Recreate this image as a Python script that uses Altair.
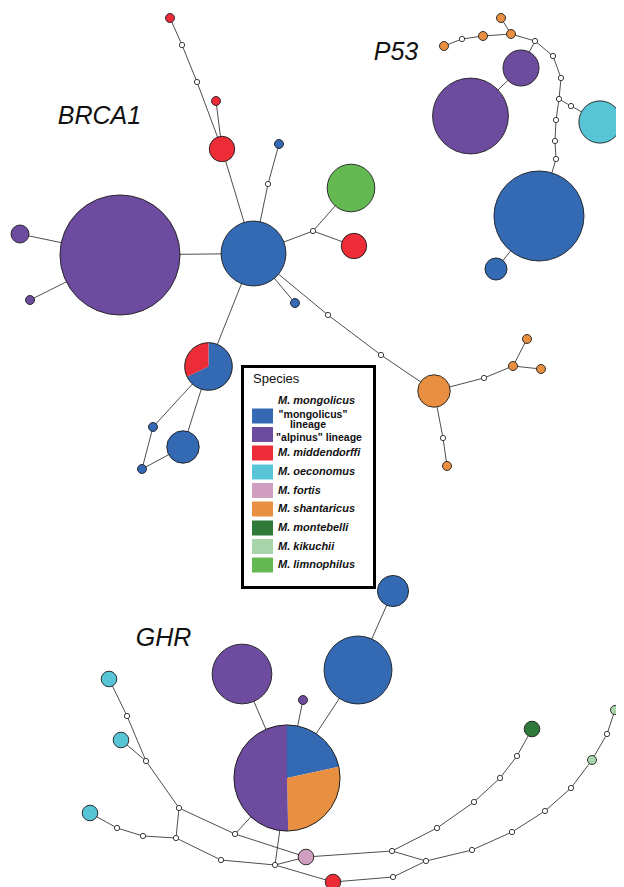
import math
import altair as alt
import pandas as pd

# ---------------- species / colours ----------------
SPECIES = ["mongolicus", "alpinus", "middendorffi", "oeconomus", "fortis",
           "shantaricus", "montebelli", "kikuchii", "limnophilus"]
COLORS = ["#3469b3", "#6d4b9e", "#ec2c36", "#57c5d6", "#d09ec1",
          "#e98f41", "#2f7a3b", "#a7d4a8", "#65b952"]

# ---------------- BRCA1 network ----------------
brca1_ids = ["b_pur_big", "b_hub", "b_pur_l", "b_pur_ll", "b_red_top", "b_h1", "b_h2",
             "b_red_s", "b_red_m", "b_blue_t", "b_h3", "b_blue_r", "b_h4", "b_green",
             "b_red_r", "b_h5", "b_h6", "b_or_big", "b_h7", "b_or1", "b_or2", "b_or3",
             "b_h8", "b_or4", "b_blue_s1", "b_blue_m", "b_blue_s2"]
brca1_x = [120, 253.5, 20, 30, 170, 182, 197, 216, 222, 279, 268, 295, 313, 351,
           354, 328, 381, 434, 484, 513, 527, 541, 443, 447, 153, 183, 142]
brca1_y = [255, 253.5, 234, 300, 18, 45, 82, 101, 149, 144, 184, 303, 231, 188,
           246, 315, 355, 391, 378, 366, 339, 369, 438, 466, 427, 447, 469]
brca1_sp = ["alpinus", "mongolicus", "alpinus", "alpinus", "middendorffi", "median", "median",
            "middendorffi", "middendorffi", "mongolicus", "median", "mongolicus", "median",
            "limnophilus", "middendorffi", "median", "median", "shantaricus", "median",
            "shantaricus", "shantaricus", "shantaricus", "median", "shantaricus",
            "mongolicus", "mongolicus", "mongolicus"]
brca1_n = [178, 52, 4, 1, 1, 0, 0, 1, 8, 1, 0, 1, 0, 28, 8, 0, 0, 13, 0, 1, 1, 1, 0, 1,
           1, 13, 1]
brca1_edges = [("b_pur_big", "b_hub"), ("b_pur_l", "b_pur_big"), ("b_pur_ll", "b_pur_big"),
               ("b_red_top", "b_h1"), ("b_h1", "b_h2"), ("b_h2", "b_red_m"),
               ("b_red_s", "b_red_m"), ("b_red_m", "b_hub"), ("b_blue_t", "b_h3"),
               ("b_h3", "b_hub"), ("b_blue_r", "b_hub"), ("b_hub", "b_h4"),
               ("b_h4", "b_green"), ("b_h4", "b_red_r"), ("b_hub", "b_h5"), ("b_h5", "b_h6"),
               ("b_h6", "b_or_big"), ("b_or_big", "b_h7"), ("b_h7", "b_or1"),
               ("b_or1", "b_or2"), ("b_or1", "b_or3"), ("b_or_big", "b_h8"),
               ("b_h8", "b_or4"), ("b_hub", "b_pie"), ("b_pie", "b_blue_s1"),
               ("b_pie", "b_blue_m"), ("b_blue_s1", "b_blue_s2"), ("b_blue_s2", "b_blue_m")]

# ---------------- P53 network ----------------
p53_ids = ["p_or1", "p_h1", "p_or2", "p_or3", "p_or4", "p_h2", "p_pur_s", "p_pur_b",
           "p_h3", "p_h4", "p_h5", "p_h6", "p_cyan", "p_h7", "p_h8", "p_h9",
           "p_blue_b", "p_blue_s"]
p53_x = [444, 462, 483, 511, 501, 535, 521, 470.5, 553, 561, 559, 571, 600, 556, 555, 556,
         539, 496]
p53_y = [46, 39, 36, 34, 18, 41, 68, 116, 56, 78, 99, 106, 122, 120, 141, 159, 216, 269]
p53_sp = ["shantaricus", "median", "shantaricus", "shantaricus", "shantaricus", "median",
          "alpinus", "alpinus", "median", "median", "median", "median", "oeconomus",
          "median", "median", "median", "mongolicus", "mongolicus"]
p53_n = [1, 0, 1, 1, 1, 0, 16, 71, 0, 0, 0, 0, 22, 0, 0, 0, 100, 6]
p53_edges = [("p_or1", "p_h1"), ("p_h1", "p_or2"), ("p_or2", "p_or3"), ("p_or3", "p_or4"),
             ("p_or3", "p_h2"), ("p_h2", "p_pur_s"), ("p_pur_s", "p_pur_b"),
             ("p_h2", "p_h3"), ("p_h3", "p_h4"), ("p_h4", "p_h5"), ("p_h5", "p_h6"),
             ("p_h6", "p_cyan"), ("p_h5", "p_h7"), ("p_h7", "p_h8"), ("p_h8", "p_h9"),
             ("p_h9", "p_blue_b"), ("p_blue_b", "p_blue_s")]

# ---------------- GHR network ----------------
ghr_ids = ["g_pur_b", "g_pur_t", "g_blue_b", "g_blue_m", "g_cy1", "g_h1", "g_cy2", "g_h2",
           "g_h3", "g_cy3", "g_h4", "g_h5", "g_h6", "g_h7", "g_h8", "g_h9", "g_pink",
           "g_red", "g_h10", "g_h11", "g_h12", "g_h13", "g_h14", "g_dg", "g_h15",
           "g_h16", "g_h17", "g_h18", "g_h19", "g_h20", "g_lg1", "g_h21", "g_lg2"]
ghr_x = [242, 303, 358, 393, 109, 127, 121, 146, 179, 90, 117, 143, 176, 235, 221, 275,
         306, 333, 392, 437, 474, 500, 517, 532, 393, 426, 472, 512, 545, 571, 592, 607, 615]
ghr_y = [674, 700, 670, 591, 679, 716, 740, 761, 808, 813, 828, 836, 838, 834, 860, 865,
         857, 882, 851, 828, 802, 778, 756, 729, 877, 861, 850, 832, 811, 788, 760, 734, 710]
ghr_sp = ["alpinus", "alpinus", "mongolicus", "mongolicus", "oeconomus", "median",
          "oeconomus", "median", "median", "oeconomus", "median", "median", "median",
          "median", "median", "median", "fortis", "middendorffi", "median", "median",
          "median", "median", "median", "montebelli", "median", "median", "median",
          "median", "median", "median", "kikuchii", "median", "kikuchii"]
ghr_n = [44, 1, 57, 12, 3, 0, 3, 0, 0, 3, 0, 0, 0, 0, 0, 0, 3, 3, 0, 0, 0, 0, 0, 3, 0,
         0, 0, 0, 0, 0, 1, 0, 1]
ghr_edges = [("g_pur_b", "g_pie"), ("g_pur_t", "g_pie"), ("g_blue_b", "g_pie"),
             ("g_blue_m", "g_blue_b"), ("g_cy1", "g_h1"), ("g_h1", "g_h2"),
             ("g_cy2", "g_h2"), ("g_h2", "g_h3"), ("g_h3", "g_h6"), ("g_cy3", "g_h4"),
             ("g_h4", "g_h5"), ("g_h5", "g_h6"), ("g_h3", "g_h7"), ("g_h7", "g_pink"),
             ("g_h7", "g_pie"), ("g_h6", "g_h8"), ("g_h8", "g_h9"), ("g_h9", "g_pie"),
             ("g_h9", "g_pink"), ("g_h9", "g_red"), ("g_pink", "g_h10"),
             ("g_h10", "g_h11"), ("g_h11", "g_h12"), ("g_h12", "g_h13"),
             ("g_h13", "g_h14"), ("g_h14", "g_dg"), ("g_h10", "g_h16"),
             ("g_red", "g_h15"), ("g_h15", "g_h16"), ("g_h16", "g_h17"),
             ("g_h17", "g_h18"), ("g_h18", "g_h19"), ("g_h19", "g_h20"),
             ("g_h20", "g_lg1"), ("g_lg1", "g_h21"), ("g_h21", "g_lg2")]

# ---------------- shared (pie) haplotypes ----------------
pie_ids = ["b_pie", "g_pie"]
pie_x = [208.5, 287]
pie_y = [366.5, 778]
pie_species = [["mongolicus", "middendorffi"], ["mongolicus", "shantaricus", "alpinus"]]
pie_counts = [[19, 9], [30, 39, 70]]

# ---------------- gene labels ----------------
gene_names = ["BRCA1", "P53", "GHR"]
gene_x = [99.5, 396, 163.5]
gene_y = [124, 60, 646]

# ---------------- legend ----------------
legend_box = (242.5, 366.5, 374.5, 587.5)
legend_sw_x = (252, 273)
legend_species = SPECIES
legend_row_y = [416, 434.5, 453, 472, 490.5, 509, 528, 546.5, 565]
legend_labels = ["", "", "M. middendorffi", "M. oeconomus", "M. fortis",
                 "M. shantaricus", "M. montebelli", "M. kikuchii", "M. limnophilus"]

# ================= build tables =================
node_df = pd.DataFrame({
    "id": brca1_ids + p53_ids + ghr_ids,
    "x": brca1_x + p53_x + ghr_x,
    "y": brca1_y + p53_y + ghr_y,
    "species": brca1_sp + p53_sp + ghr_sp,
    "n": brca1_n + p53_n + ghr_n,
})
pos = {r.id: (r.x, r.y) for r in node_df.itertuples()}
for pid, px, py in zip(pie_ids, pie_x, pie_y):
    pos[pid] = (px, py)

edge_rows = []
for a, b in brca1_edges + p53_edges + ghr_edges:
    edge_rows.append({"x": pos[a][0], "y": pos[a][1], "x2": pos[b][0], "y2": pos[b][1]})
edge_df = pd.DataFrame(edge_rows)

pie_rows = []
for pid, px, py, sps, cts in zip(pie_ids, pie_x, pie_y, pie_species, pie_counts):
    tot = sum(cts)
    for k, (s, c) in enumerate(zip(sps, cts)):
        pie_rows.append({"pie": pid, "x": px, "y": py, "species": s, "n": c,
                         "total": tot, "ord": k})
pie_df = pd.DataFrame(pie_rows)
pie_tot_df = pie_df.groupby("pie", as_index=False).agg(x=("x", "first"), y=("y", "first"),
                                                      total=("total", "first"))

sampled = node_df[node_df.species != "median"]
median = node_df[node_df.species == "median"]

# ================= scales =================
W, H = 608, 879
XS = alt.Scale(domain=[8, 8 + W], nice=False, zero=False)
YS = alt.Scale(domain=[8, 8 + H], nice=False, zero=False, reverse=True)
UNIT_R = 4.5
NMAX = 200
# Vega symbol size is the area of the bounding square: radius = sqrt(size) / 2
SIZE_S = alt.Scale(domain=[0, NMAX], range=[0, NMAX * 4 * UNIT_R ** 2], zero=True)
RAD_S = alt.Scale(type="sqrt", domain=[0, NMAX], range=[0, UNIT_R * math.sqrt(NMAX)])
COL_S = alt.Scale(domain=SPECIES, range=COLORS)

X = lambda f="x": alt.X(f"{f}:Q", scale=XS, axis=None)
Y = lambda f="y": alt.Y(f"{f}:Q", scale=YS, axis=None)

edges = alt.Chart(edge_df).mark_rule(color="#3a3a3a", strokeWidth=0.9).encode(
    x=X(), y=Y(), x2="x2:Q", y2="y2:Q")

circles = alt.Chart(sampled).mark_circle(opacity=1, stroke="#1e1e1e", strokeWidth=0.9).encode(
    x=X(), y=Y(),
    size=alt.Size("n:Q", scale=SIZE_S, legend=None),
    color=alt.Color("species:N", scale=COL_S, legend=None))

medians = alt.Chart(median).mark_circle(opacity=1, fill="white", stroke="#2a2a2a",
                                        strokeWidth=0.9).encode(
    x=X(), y=Y(), size=alt.value(28))

pie_layers = []
for pid in pie_ids:
    pie_layers.append(
        alt.Chart(pie_df).transform_filter(alt.datum.pie == pid).mark_arc(stroke=None).encode(
            x=X(), y=Y(),
            theta=alt.Theta("n:Q", stack="normalize"),
            order=alt.Order("ord:Q"),
            radius=alt.Radius("total:Q", scale=RAD_S),
            color=alt.Color("species:N", scale=COL_S, legend=None)))

pie_outline = alt.Chart(pie_tot_df).mark_point(shape="circle", filled=False,
                                               stroke="#1e1e1e", strokeWidth=1,
                                               opacity=1).encode(
    x=X(), y=Y(), size=alt.Size("total:Q", scale=SIZE_S, legend=None))

genes = alt.Chart(pd.DataFrame({"g": gene_names, "x": gene_x, "y": gene_y})).mark_text(
    font="Liberation Sans", fontSize=25, fontStyle="italic", color="#111111",
    baseline="alphabetic", align="center").encode(x=X(), y=Y(), text="g:N")

# ---- legend ----
lb = pd.DataFrame({"x": [legend_box[0]], "x2": [legend_box[2]],
                   "y": [legend_box[1]], "y2": [legend_box[3]]})
legend_frame = alt.Chart(lb).mark_rect(fill="white", stroke="black", strokeWidth=3).encode(
    x=X(), x2="x2:Q", y=Y(), y2="y2:Q")

sw = pd.DataFrame({"species": legend_species,
                   "x": [legend_sw_x[0]] * len(legend_species),
                   "x2": [legend_sw_x[1]] * len(legend_species),
                   "y": [v - 7.5 for v in legend_row_y],
                   "y2": [v + 7.5 for v in legend_row_y]})
swatches = alt.Chart(sw).mark_rect(opacity=1).encode(
    x=X(), x2="x2:Q", y=Y(), y2="y2:Q",
    color=alt.Color("species:N", scale=COL_S, legend=None))

lab = pd.DataFrame({"t": legend_labels[2:], "x": [278] * 7, "y": legend_row_y[2:]})
labels = alt.Chart(lab).mark_text(font="Liberation Sans", fontSize=11, fontWeight="bold",
                                  fontStyle="italic", align="left", baseline="middle",
                                  color="#111").encode(x=X(), y=Y(), text="t:N")

head = alt.Chart(pd.DataFrame({"t": ["M. mongolicus"], "x": [316.5], "y": [401]})).mark_text(
    font="Liberation Sans", fontSize=11, fontWeight="bold", fontStyle="italic",
    align="center", baseline="middle", color="#111").encode(x=X(), y=Y(), text="t:N")

lin = alt.Chart(pd.DataFrame({"t": ['"mongolicus"', "lineage", '"alpinus" lineage'],
                              "x": [313, 308, 319], "y": [414.5, 425, 437.5]})).mark_text(
    font="Liberation Sans", fontSize=10.5, fontWeight="bold", align="center",
    baseline="middle", color="#111").encode(x=X(), y=Y(), text="t:N")

title = alt.Chart(pd.DataFrame({"t": ["Species"], "x": [253], "y": [379]})).mark_text(
    font="Liberation Sans", fontSize=13, align="left", baseline="middle",
    color="#111").encode(x=X(), y=Y(), text="t:N")

chart = alt.layer(edges, *pie_layers, pie_outline, circles, medians, genes,
                  legend_frame, swatches, labels, head, lin, title).properties(
    width=W, height=H, padding=0, autosize=alt.AutoSizeParams(type="none")
).configure_view(stroke=None)

chart.save("out.html", embed_options={"renderer": "svg", "actions": False})
